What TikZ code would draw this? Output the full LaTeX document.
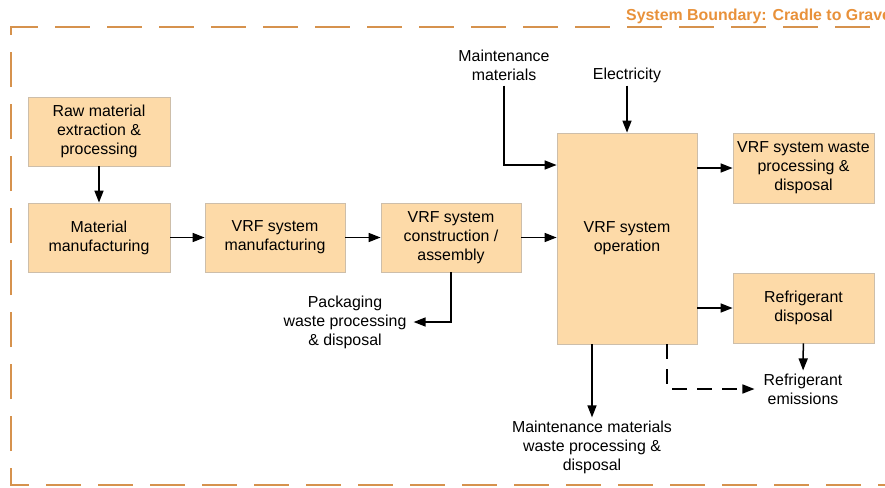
\documentclass[tikz,border=0pt]{standalone}
\usepackage{fontspec}
\setmainfont{Liberation Sans}
\usetikzlibrary{arrows.meta,calc}
\definecolor{boxfill}{RGB}{253,218,168}
\definecolor{boxline}{RGB}{205,190,170}
\definecolor{bound}{RGB}{214,146,77}
\definecolor{boundtxt}{RGB}{232,145,58}
\begin{document}
\begin{tikzpicture}[x=1pt,y=-1pt,
  every node/.style={font=\fontsize{15.9}{19}\selectfont},
  box/.style={draw=boxline,line width=0.8pt,fill=boxfill,align=center,inner sep=0pt},
  lbl/.style={align=center,inner sep=3pt},
  arr/.style={line width=1.5pt,-{Triangle[length=12pt,width=9pt]}},
  bline/.style={draw=bound,line width=2.5pt,dash pattern=on 35pt off 17pt}]
\useasboundingbox (0,0) rectangle (885,487);
\begin{scope}
\clip (0,0) rectangle (885,487);
% boundary
\draw[bline] (29,485) -- (11,485) -- (11,27) -- (900,27);
\draw[bline,dash phase=35pt] (29,485) -- (900,485);
\node[font=\fontsize{15.9}{19}\selectfont\bfseries,text=boundtxt,anchor=west,inner sep=0pt] (title) at (626,16) {System Boundary: Cradle to Grave};
\end{scope}
% boxes
\node[box,minimum width=142pt,minimum height=69pt] (raw) at (99,131.5) {Raw material\\extraction \&\\processing};
\node[box,minimum width=142pt,minimum height=69pt] (mat) at (99,237.5) {Material\\manufacturing};
\node[box,minimum width=140pt,minimum height=69pt] (vrfm) at (275,237.5) {VRF system\\manufacturing};
\node[box,minimum width=140pt,minimum height=69pt] (cons) at (451,237.5) {VRF system\\construction /\\assembly};
\node[box,minimum width=140pt,minimum height=211pt] (oper) at (627,238.5) {VRF system\\operation};
\node[box,minimum width=141pt,minimum height=70pt] (waste) at (803.5,168) {VRF system waste\\processing \&\\disposal};
\node[box,minimum width=141pt,minimum height=70pt] (refd) at (803.5,308) {Refrigerant\\disposal};
% labels
\node[lbl] (maint) at (504,65) {Maintenance\\materials};
\node[lbl] (elec) at (627,75) {Electricity};
\node[lbl] (pack) at (345,322) {Packaging\\waste processing\\\& disposal};
\node[lbl] (mmw) at (592,447) {Maintenance materials\\waste processing \&\\disposal};
\node[lbl] (refe) at (803,389) {Refrigerant\\emissions};
% coordinates
\coordinate (m1) at (oper.west |- 0,165);
\coordinate (d1) at ($(oper.south)+(40,0)$);
\coordinate (d2) at ($(refe.west)+(-6,0)$);
\coordinate (s1) at ($(oper.south)+(-35,0)$);
\coordinate (p1) at ($(pack.east)+(4,0)$);
% connectors
\draw[arr] (raw) -- (mat);
\draw[arr] (mat) -- (vrfm);
\draw[arr] (vrfm) -- (cons);
\draw[arr] (cons) -- (cons -| oper.west);
\draw[arr] ($(maint.south)+(0,2)$) |- (m1);
\draw[arr] (elec) -- (elec |- oper.north);
\draw[arr] (oper.east |- waste) -- (waste);
\draw[arr] (oper.east |- refd) -- (refd);
\draw[arr] (refd) -- (refe);
\draw[arr] (s1) -- (s1 |- mmw.north);
\draw[arr] (cons.south) |- (p1);
\draw[arr,dash pattern=on 15pt off 10pt] (d1) |- (d2);
\end{tikzpicture}
\end{document}
